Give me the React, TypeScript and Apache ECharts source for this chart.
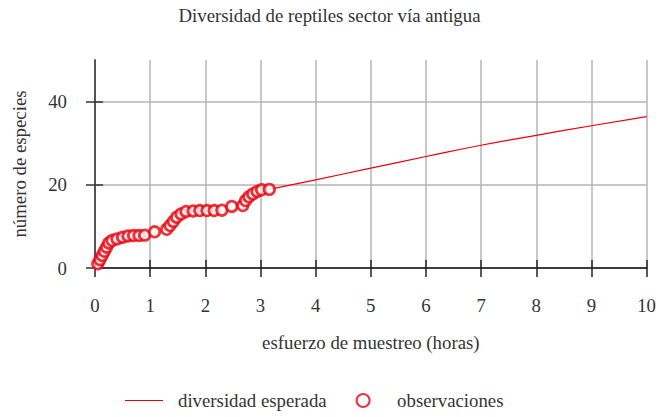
import React, { useEffect, useRef } from "react";
import * as echarts from "echarts";

const chartTitle = "Diversidad de reptiles sector vía antigua";
const xAxisName = "esfuerzo de muestreo (horas)";
const yAxisName = "número de especies";
const expectedName = "diversidad esperada";
const observedName = "observaciones";

const yTickValues = [0, 20, 40];

const observedHours = [
  0.05, 0.09, 0.13, 0.17, 0.21, 0.25, 0.31, 0.4, 0.5, 0.6, 0.7, 0.8, 0.9,
  1.08, 1.3, 1.36, 1.42, 1.48, 1.56, 1.65, 1.78, 1.9, 2.03, 2.16, 2.3, 2.48,
  2.68, 2.73, 2.79, 2.86, 2.94, 3.02, 3.16,
];
const observedSpecies = [
  1, 2, 3, 4, 5, 6, 6.6, 7, 7.4, 7.7, 7.8, 7.8, 7.9,
  8.7, 9.3, 10.2, 11.2, 12.2, 13.0, 13.6, 13.7, 13.8, 13.8, 13.8, 13.9, 14.8,
  15.0, 16.2, 17.1, 17.8, 18.4, 18.8, 18.9,
];

const expectedHours = [3.16, 4, 5, 6, 7, 8, 9, 10];
const expectedSpecies = [18.9, 21.2, 24.0, 26.8, 29.5, 31.9, 34.2, 36.4];

const FONT = "'Liberation Serif', 'Times New Roman', serif";
const FS = 18.8;
const TXT = "#333";
const RED = "#e8000b";

export default function App() {
  const ref = useRef<HTMLDivElement>(null);
  useEffect(() => {
    if (!ref.current) return;
    const chart = echarts.init(ref.current, null, { renderer: "svg" });
    const xBase = {
      type: "value" as const,
      gridIndex: 0,
      min: 0,
      max: 10,
      interval: 1,
      position: "bottom" as const,
    };
    const yBase = {
      type: "value" as const,
      gridIndex: 0,
      min: 0,
      max: 50,
      position: "left" as const,
    };
    chart.setOption({
      animation: false,
      backgroundColor: "#fff",
      textStyle: { fontFamily: FONT },
      title: {
        text: chartTitle,
        left: "center",
        top: 6,
        padding: 0,
        textStyle: { fontFamily: FONT, fontSize: FS, fontWeight: "normal", color: TXT },
      },
      grid: { left: 95, right: 11, top: 60, bottom: 149, containLabel: false },
      legend: {
        left: 125,
        top: 391,
        padding: 0,
        itemWidth: 38,
        itemHeight: 13,
        itemGap: 29,
        textStyle: { fontFamily: FONT, fontSize: FS, color: TXT, padding: [0, 0, 0, 10] },
        data: [
          { name: expectedName, icon: "path://M0,0 L38,0 L38,1.2 L0,1.2 Z", itemStyle: { color: RED } },
          { name: observedName },
        ],
      },
      xAxis: [
        {
          ...xBase,
          name: xAxisName,
          nameLocation: "middle",
          nameGap: 65,
          nameTextStyle: { fontFamily: FONT, fontSize: FS, color: TXT },
          axisLine: { show: true, onZero: false, lineStyle: { color: "#111", width: 1.5 } },
          axisTick: { show: true, inside: false, length: 9, lineStyle: { color: "#222", width: 1.5 } },
          axisLabel: { margin: 28, fontFamily: FONT, fontSize: FS, color: TXT },
          splitLine: { show: true, lineStyle: { color: "#b5b5b5", width: 1.5 } },
        },
        {
          ...xBase,
          axisLine: { show: false },
          axisTick: { show: true, inside: true, length: 8, lineStyle: { color: "#222", width: 1.5 } },
          axisLabel: { show: false },
          splitLine: { show: false },
        },
      ],
      yAxis: [
        {
          ...yBase,
          name: yAxisName,
          nameLocation: "middle",
          nameGap: 66,
          nameTextStyle: { fontFamily: FONT, fontSize: FS, color: TXT },
          axisLine: { show: true, onZero: false, lineStyle: { color: "#555", width: 2 } },
          axisTick: { show: true, inside: false, length: 9, customValues: yTickValues, lineStyle: { color: "#333", width: 1.5 } },
          axisLabel: { margin: 28, customValues: yTickValues, fontFamily: FONT, fontSize: FS, color: TXT },
          splitLine: { show: true, lineStyle: { color: "#b5b5b5", width: 1.5 } },
        },
        {
          ...yBase,
          axisLine: { show: false },
          axisTick: { show: true, inside: true, length: 8, customValues: yTickValues, lineStyle: { color: "#333", width: 1.5 } },
          axisLabel: { show: false, customValues: yTickValues },
          splitLine: { show: false },
        },
      ],
      series: [
        {
          name: expectedName,
          type: "line",
          xAxisIndex: 0,
          yAxisIndex: 0,
          symbol: "none",
          smooth: true,
          lineStyle: { color: RED, width: 1.2 },
          itemStyle: { color: RED },
          data: expectedHours.map((h, i) => [h, expectedSpecies[i]]),
          z: 2,
        },
        {
          name: observedName,
          type: "scatter",
          xAxisIndex: 0,
          yAxisIndex: 0,
          symbol: "circle",
          symbolSize: 10.5,
          itemStyle: { color: "#fff", borderColor: RED, borderWidth: 2.8 },
          data: observedHours.map((h, i) => [h, observedSpecies[i]]),
          z: 3,
        },
      ],
    });
    return () => chart.dispose();
  }, []);
  return (
    <div
      ref={ref}
      style={{ position: "fixed", left: 0, top: 0, width: 659, height: 417 }}
    />
  );
}
